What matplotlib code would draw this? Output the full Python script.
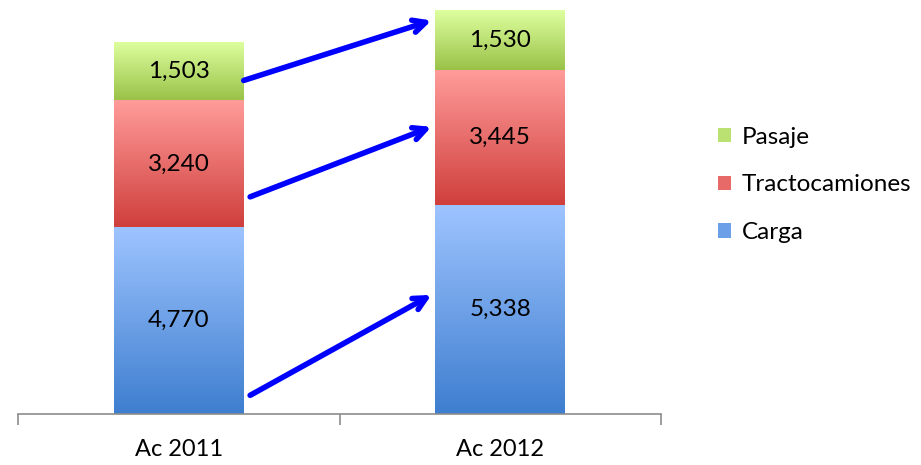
import numpy as np
import matplotlib
matplotlib.use("Agg")
import matplotlib.pyplot as plt
from matplotlib.colors import LinearSegmentedColormap
from matplotlib.patches import Patch

categories = ["Ac 2011", "Ac 2012"]
series_names = ["Carga", "Tractocamiones", "Pasaje"]
carga = [4770, 5338]
tracto = [3240, 3445]
pasaje = [1503, 1530]
series_values = [carga, tracto, pasaje]

# gradient colours (top, bottom) per series
grad_colors = {
    "Carga": ("#9EC4FF", "#3E7ECF"),
    "Tractocamiones": ("#FF9C9A", "#CF3F3C"),
    "Pasaje": ("#DEFF9F", "#9AC248"),
}
legend_colors = {"Carga": "#6B9FE8", "Tractocamiones": "#E86A68", "Pasaje": "#BCE173"}

# arrows: fraction of the segment height at start (2011) and end (2012)
arrow_start_frac = [0.10, 0.24, 0.34]
arrow_end_frac = [0.57, 0.58, 0.83]

plt.rcParams['font.family'] = ['Lato', 'DejaVu Sans']

W, H = 921, 465
fig = plt.figure(figsize=(W / 100, H / 100), dpi=100)
ax_left, ax_right = 18, 661
ax_bottom, ax_top = 414, 3
ax = fig.add_axes([ax_left / W, (H - ax_bottom) / H, (ax_right - ax_left) / W, (ax_bottom - ax_top) / H])

x = np.arange(len(categories))
width = 0.404
ymax = 10500

bottom = np.zeros(len(categories))
seg_bounds = []
for name, vals in zip(series_names, series_values):
    vals = np.array(vals, dtype=float)
    bars = ax.bar(x, vals, width, bottom=bottom, color="none", edgecolor="none", zorder=2)
    cmap = LinearSegmentedColormap.from_list(name, [grad_colors[name][1], grad_colors[name][0]])
    grad = np.linspace(0, 1, 256).reshape(-1, 1)
    for i, b in enumerate(bars):
        x0, y0 = b.get_x(), b.get_y()
        im = ax.imshow(grad, cmap=cmap, aspect="auto", origin="lower",
                       extent=[x0, x0 + b.get_width(), y0, y0 + b.get_height()], zorder=1)
        im.set_clip_path(b)
        ax.text(x[i], y0 + b.get_height() / 2, f"{int(vals[i]):,}", ha="center", va="center",
                fontsize=17.5, color="black", zorder=3)
    seg_bounds.append((bottom.copy(), bottom + vals))
    bottom = bottom + vals

ax.set_xlim(-0.5, len(categories) - 0.5)
ax.set_ylim(0, ymax)

# arrows
for k in range(len(series_names)):
    lo, hi = seg_bounds[k]
    ys = lo[0] + arrow_start_frac[k] * (hi[0] - lo[0])
    ye = lo[1] + arrow_end_frac[k] * (hi[1] - lo[1])
    xs = x[0] + width / 2 + (0.02 if k < 2 else 0.0)
    xe = x[1] - width / 2 - 0.012
    ax.annotate("", xy=(xe, ye), xytext=(xs, ys),
                arrowprops=dict(arrowstyle="->,head_length=0.9,head_width=0.45",
                                color="#0000FF", lw=4, capstyle="round",
                                shrinkA=0, shrinkB=0), zorder=4)

# axes styling
for s in ["top", "right", "left"]:
    ax.spines[s].set_visible(False)
ax.spines["bottom"].set_color("#8C8C8C")
ax.spines["bottom"].set_linewidth(1.2)
ax.set_yticks([])
ax.set_xticks(np.arange(-0.5, len(categories)))
ax.set_xticklabels([])
ax.tick_params(axis="x", direction="out", length=8, width=1.2, color="#8C8C8C")
for i, c in enumerate(categories):
    ax.text(x[i], -0.062 * ymax, c, ha="center", va="top", fontsize=17, clip_on=False)

handles = [Patch(facecolor=legend_colors[n], edgecolor="none") for n in reversed(series_names)]
fig.legend(handles, list(reversed(series_names)), loc="upper left",
           bbox_to_anchor=(708 / W, 1 - 117 / H), frameon=False, fontsize=17.5,
           handlelength=0.55, handleheight=0.55, handletextpad=0.45, labelspacing=1.1,
           borderaxespad=0)

fig.savefig("out.png", dpi=100)
